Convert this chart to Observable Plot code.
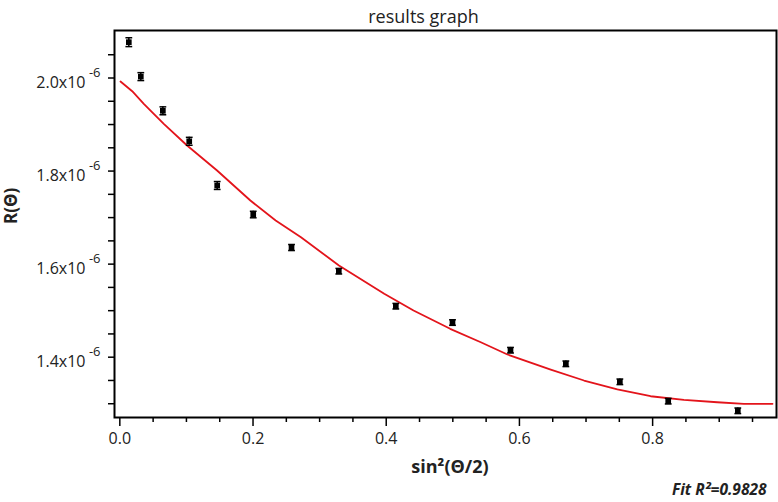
<!DOCTYPE html>
<html><head><meta charset="utf-8">
<script src="https://cdn.jsdelivr.net/npm/d3@7"></script>
<script src="https://cdn.jsdelivr.net/npm/@observablehq/plot@0.6"></script>
<style>body{margin:0;background:#fff;} #chart svg{font-family:"Open Sans",sans-serif;}</style>
</head><body><div id="chart"></div>
<script>
// measured points: sin^2(theta/2) and R(theta)
const sinSq = [0.0135, 0.0315, 0.0646, 0.1042, 0.1462, 0.2003, 0.2578, 0.3288, 0.4144, 0.4995, 0.5866, 0.6697, 0.7508, 0.8234, 0.9279];
const R = [2.077e-6, 2.003e-6, 1.9295e-6, 1.864e-6, 1.769e-6, 1.7066e-6, 1.6357e-6, 1.5848e-6, 1.5096e-6, 1.4745e-6, 1.415e-6, 1.3858e-6, 1.3471e-6, 1.3055e-6, 1.2848e-6];
const Rerr = [0.0095e-6, 0.0085e-6, 0.0085e-6, 0.0085e-6, 0.0085e-6, 0.007e-6, 0.0065e-6, 0.006e-6, 0.006e-6, 0.006e-6, 0.006e-6, 0.006e-6, 0.006e-6, 0.006e-6, 0.006e-6];
// fit curve
const fitX = [0.001, 0.0186, 0.036, 0.066, 0.101, 0.146, 0.196, 0.234, 0.272, 0.329, 0.397, 0.441, 0.496, 0.542, 0.582, 0.647, 0.697, 0.747, 0.797, 0.847, 0.897, 0.937, 0.98];
const fitR = [1.9925e-6, 1.9716e-6, 1.9445e-6, 1.9016e-6, 1.8549e-6, 1.8012e-6, 1.7367e-6, 1.6937e-6, 1.6579e-6, 1.597e-6, 1.5362e-6, 1.5003e-6, 1.461e-6, 1.4322e-6, 1.4058e-6, 1.3735e-6, 1.3499e-6, 1.3306e-6, 1.3161e-6, 1.3084e-6, 1.3032e-6, 1.2998e-6, 1.2998e-6];
// ticks
const xMajorTicks = [0, 0.2, 0.4, 0.6, 0.8];
const xMinorTicks = [0.05, 0.1, 0.15, 0.25, 0.3, 0.35, 0.45, 0.5, 0.55, 0.65, 0.7, 0.75, 0.85, 0.9, 0.95];
const yMajorTicks = [1.4e-6, 1.6e-6, 1.8e-6, 2.0e-6];
const yMinorTicks = [1.3e-6, 1.35e-6, 1.45e-6, 1.5e-6, 1.55e-6, 1.65e-6, 1.7e-6, 1.75e-6, 1.85e-6, 1.9e-6, 1.95e-6, 2.05e-6];
const titleText = "results graph";
const xLabel = "sin²(Θ/2)";
const yLabel = "R(Θ)";
const fitText = "Fit R²=0.9828";
const expText = "-6";

const pts = sinSq.map((x, i) => ({x, y: R[i], lo: R[i] - Rerr[i], hi: R[i] + Rerr[i]}));
const fit = fitX.map((x, i) => ({x, y: fitR[i]}));
const capSym = {draw(ctx, size) { const w = Math.sqrt(size / Math.PI); ctx.moveTo(-w, 0); ctx.lineTo(w, 0); }};

const chart = Plot.plot({
  width: 778, height: 502,
  marginTop: 30, marginLeft: 114, marginRight: 2, marginBottom: 85,
  style: {fontFamily: "'Open Sans', sans-serif", fontSize: "16px", color: "#222", background: "#fff"},
  x: {domain: [-0.008, 0.986]},
  y: {domain: [1.2704e-6, 2.1021e-6]},
  marks: [
    Plot.axisX({ticks: xMinorTicks, tickSize: 5, tickFormat: () => "", label: null, strokeWidth: 1.5, stroke: "#000"}),
    Plot.axisX({ticks: xMajorTicks, tickSize: 9, tickFormat: () => "", label: null, strokeWidth: 1.5, stroke: "#000"}),
    Plot.axisY({ticks: yMinorTicks, tickSize: 6, tickFormat: () => "", label: null, strokeWidth: 1.5, stroke: "#000"}),
    Plot.axisY({ticks: yMajorTicks, tickSize: 6, tickFormat: () => "", label: null, strokeWidth: 1.5, stroke: "#000"}),
    Plot.text(xMajorTicks, {x: d => d, frameAnchor: "bottom", dy: 26, text: d => d3.format(".1f")(d), fontSize: 16, fill: "#222"}),
    Plot.text(yMajorTicks, {y: d => d, frameAnchor: "left", textAnchor: "end", dx: -29, dy: 5, text: d => (d * 1e6).toFixed(1) + "x10", fontSize: 16, fill: "#222"}),
    Plot.text(yMajorTicks, {y: d => d, frameAnchor: "left", textAnchor: "end", dx: -14, dy: -5, text: () => expText, fontSize: 13, fill: "#222"}),
    Plot.line(fit, {x: "x", y: "y", stroke: "#e3141b", strokeWidth: 1.8, curve: "linear"}),
    Plot.ruleX(pts, {x: "x", y1: "lo", y2: "hi", stroke: "#000", strokeWidth: 1.5}),
    Plot.dot(pts, {x: "x", y: "lo", symbol: capSym, r: 3.4, stroke: "#000", strokeWidth: 1.5, fill: "none"}),
    Plot.dot(pts, {x: "x", y: "hi", symbol: capSym, r: 3.4, stroke: "#000", strokeWidth: 1.5, fill: "none"}),
    Plot.dot(pts, {x: "x", y: "y", symbol: "square", r: 3.2, fill: "#000", stroke: "none"}),
    Plot.frame({stroke: "#000", strokeWidth: 2}),
    Plot.text([titleText], {frameAnchor: "top", dx: -22, dy: -20, text: d => d, fontSize: 18, fill: "#222"}),
    Plot.text([xLabel], {frameAnchor: "bottom", dx: 4.5, dy: 55, text: d => d, fontSize: 18, fontWeight: "bold", fill: "#222"}),
    Plot.text([yLabel], {frameAnchor: "left", dx: -103, rotate: -90, text: d => d, fontSize: 17, fontWeight: "bold", fill: "#222"}),
    Plot.text([fitText], {frameAnchor: "bottom-right", textAnchor: "end", dx: -10, dy: 77.5, text: d => d, fontSize: 15.5, fontWeight: "bold", fontStyle: "italic", fill: "#222"})
  ]
});
document.getElementById("chart").appendChild(chart);
</script></body></html>
